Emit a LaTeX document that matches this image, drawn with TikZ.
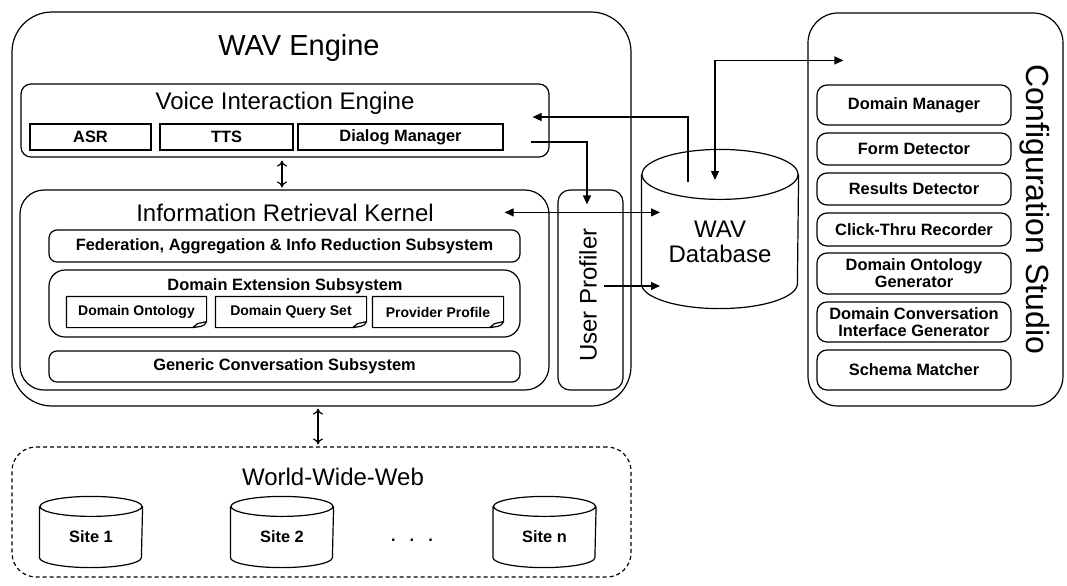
\documentclass[tikz,border=0pt]{standalone}
\usepackage{fontspec}
\setmainfont{Liberation Sans}
\usetikzlibrary{arrows.meta, positioning, shapes.geometric}

\begin{document}
\begin{tikzpicture}[x=0.5pt, y=-0.5pt, line width=0.6pt,
		box/.style={draw, rounded corners=#1, inner sep=1pt, align=center},
		box/.default=5pt,
		sq/.style={draw, inner sep=1pt},
		lbl/.style={font=\fontsize{8.2}{8.4}\selectfont\bfseries},
		doc/.style={font=\fontsize{7}{8}\selectfont\bfseries, inner sep=0pt},
		ttl/.style={font=\fontsize{12}{12.5}\selectfont},
		big/.style={font=\fontsize{16}{18}\selectfont},
		store/.style={inner sep=0pt},
		flow/.style={-{Triangle[length=4.5pt, width=4pt]}},
		flows/.style={{Triangle[length=4.5pt, width=4pt]}-{Triangle[length=4.5pt, width=4pt]}},
		twoway/.style={{To[length=3pt, width=5pt]}-{To[length=3pt, width=5pt]}}]
	\useasboundingbox (0,0) rectangle (1067,585);

	% WAV engine
	\node[box=20pt, minimum width=309.5pt, minimum height=197pt] (engine) at (321.5,209) {};
	\node[big, font=\fontsize{14.5}{16}\selectfont] (enginettl) at (299,48) {WAV Engine};

	\node[box, minimum width=264pt, minimum height=36.5pt] (vie) at (285,120.5) {};
	\node[ttl] (viettl) at (285,103) {Voice Interaction Engine};
	\node[sq, lbl, minimum width=60.5pt, minimum height=13pt] (asr) at (90.5,137) {ASR};
	\node[sq, lbl, minimum width=66.5pt, minimum height=13pt] (tts) at (226.5,137) {TTS};
	\node[sq, lbl, minimum width=102.5pt, minimum height=13pt] (dlg) at (400.5,137) {Dialog Manager};

	\node[box=12pt, minimum width=264.5pt, minimum height=100pt] (irk) at (284.5,290) {};
	\node[ttl] (irkttl) at (285,213) {Information Retrieval Kernel};
	\node[box=4pt, lbl, minimum width=235.5pt, minimum height=16pt] (fed) at (284.5,246) {Federation, Aggregation \& Info Reduction Subsystem};
	\node[box=8pt, minimum width=235.5pt, minimum height=33.5pt] (des) at (284.5,303.5) {};
	\node[lbl] (desttl) at (285,286) {Domain Extension Subsystem};
	\node[doc, minimum width=69.5pt, minimum height=15pt] (dont) at (136.5,312) {Domain Ontology};
	\node[doc, minimum width=75pt, minimum height=15pt] (dqs) at (291,312) {Domain Query Set};
	\node[doc, minimum width=65pt, minimum height=15pt] (pprof) at (438,312) {Provider Profile};
	\foreach \d in {dont,dqs,pprof}
		\draw (\d.north west) -- (\d.north east) -- ([yshift=3pt]\d.south east)
			to[out=-110, in=10] ([xshift=-7pt]\d.south east) -- (\d.south west) -- cycle
			([yshift=3pt]\d.south east) -- ([xshift=-4.5pt, yshift=2pt]\d.south east) to[out=-150, in=30] ([xshift=-7pt]\d.south east);
	\node[box=4pt, lbl, minimum width=235.5pt, minimum height=15.5pt] (gcs) at (284.5,366.5) {Generic Conversation Subsystem};

	\node[box=6pt, minimum width=32.5pt, minimum height=100pt] (up) at (590.5,290) {};
	\node[ttl, rotate=90] (upttl) at (588,295) {User Profiler};

	% database
	\node[store, minimum width=78pt, minimum height=79pt] (db) at (720,229) {};
	\node[ttl, align=center] (dbttl) at (720,242) {WAV\\Database};

	% configuration studio
	\node[box=15pt, minimum width=127.5pt, minimum height=196.5pt] (cs) at (935.5,209.5) {};
	\node[big, rotate=-90] (csttl) at (1035,209) {Configuration Studio};
	\foreach \n/\y/\h/\t in {cdm/105/20/Domain Manager, cfd/149/16/Form Detector,
			crd/189/16/Results Detector, cct/229.5/16.5/Click-Thru Recorder,
			cog/273.5/20.5/{Domain Ontology\\Generator},
			cci/322/20/{Domain Conversation\\Interface Generator}, csm/370/20/Schema Matcher}
		\node[box, lbl, minimum width=97pt, minimum height=\h pt] (\n) at (914,\y) {\t};

	% web
	\node[box=12pt, dashed, dash pattern=on 2pt off 1.5pt, minimum width=309.5pt, minimum height=65pt] (www) at (321.5,512) {};
	\node[ttl] (wwwttl) at (333,477) {World-Wide-Web};
	\foreach \n/\x/\t in {site1/91/Site 1, site2/282/Site 2, siten/544.5/Site n} {
		\node[store, minimum width=51pt, minimum height=35pt] (\n) at (\x,532) {};
		\node[lbl] (\n-t) at ([yshift=-2.5pt]\n.center) {\t};
	}
	\node[lbl, anchor=base] (dots) at (412,541) {.\hspace{7pt}.\hspace{7pt}.};

	% cylinder outlines
	\foreach \c/\rx/\ry in {db/39pt/12.5pt, site1/25.5pt/5pt, site2/25.5pt/5pt, siten/25.5pt/5pt}
		\draw ([yshift=-\ry]\c.north west) -- ([yshift=\ry]\c.south west)
			arc[start angle=180, end angle=360, x radius=\rx, y radius=\ry]
			-- ([yshift=-\ry]\c.north east)
			([yshift=-\ry]\c.north) ellipse[x radius=\rx, y radius=\ry];

	% connectors
	\coordinate (vieIn) at ([xshift=-8.5pt, yshift=1.75pt]vie.east);
	\coordinate (vieOut) at ([xshift=-9.5pt, yshift=-10.75pt]vie.east);
	\coordinate (upIn) at ([xshift=-1.75pt, yshift=-7.5pt]up.north);
	\coordinate (irkIn) at ([xshift=-22.5pt, yshift=-11.5pt]irk.north east);
	\coordinate (upOut) at ([xshift=6.75pt, yshift=2pt]up.center);
	\coordinate (dbL) at ([xshift=-30pt]db.center);
	\coordinate (dbA) at ([xshift=-16pt, yshift=23.5pt]db.center);
	\coordinate (dbB) at ([xshift=-2.5pt, yshift=24.5pt]db.center);
	\coordinate (csIn) at ([xshift=18pt, yshift=-24pt]cs.north west);

	\draw[flow] (dbA) |- (vieIn);
	\draw[flow] (vieOut) -| (upIn);
	\draw[flows] (irkIn) -- (irkIn -| dbL);
	\draw[flow] (upOut) -- (upOut -| dbL);
	\draw[flows] (dbB) |- (csIn);
	\draw[twoway, shorten <=1.5pt, shorten >=1pt] ([xshift=-1.5pt]vie.south) -- ([xshift=-1.5pt]vie.south |- irk.north);
	\draw[twoway, shorten <=1pt, shorten >=1pt] ([xshift=-1.75pt]engine.south) -- ([xshift=-1.75pt]engine.south |- www.north);
\end{tikzpicture}
\end{document}
